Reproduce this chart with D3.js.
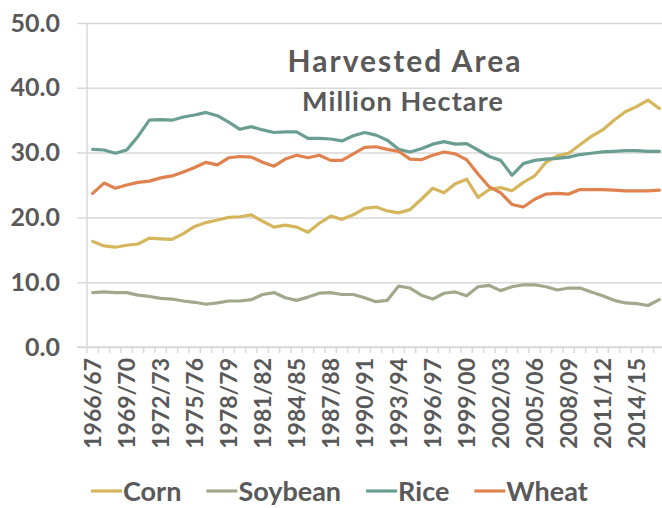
<!DOCTYPE html>
<html>
<head>
<meta charset="utf-8">
<script src="https://cdn.jsdelivr.net/npm/d3@7"></script>
<style>
  html, body { margin: 0; padding: 0; background: #fff; }
  svg { display: block; }
  text { font-family: Lato, "Open Sans", sans-serif; font-weight: bold; fill: #595959; }
</style>
</head>
<body>
<svg id="chart" width="662" height="508"></svg>
<script>
// Marketing years 1966/67 .. 2016/17
const years = d3.range(1966, 2017).map(y => y + "/" + String((y + 1) % 100).padStart(2, "0"));

// Harvested area, million hectares
const corn = [16.3, 15.6, 15.4, 15.7, 15.9, 16.8, 16.7, 16.6, 17.5, 18.6,
              19.2, 19.6, 20.0, 20.1, 20.4, 19.4, 18.5, 18.8, 18.5, 17.7,
              19.1, 20.2, 19.7, 20.4, 21.4, 21.6, 21.0, 20.7, 21.2, 22.8,
              24.5, 23.8, 25.2, 25.9, 23.1, 24.3, 24.6, 24.1, 25.4, 26.4,
              28.5, 29.5, 29.9, 31.2, 32.5, 33.5, 35.0, 36.3, 37.1, 38.1, 36.8];
const soybean = [8.4, 8.5, 8.4, 8.4, 8.0, 7.8, 7.5, 7.4, 7.1, 6.9,
                 6.6, 6.8, 7.1, 7.1, 7.3, 8.1, 8.4, 7.6, 7.2, 7.7,
                 8.3, 8.4, 8.1, 8.1, 7.6, 7.0, 7.2, 9.4, 9.1, 8.0,
                 7.4, 8.3, 8.5, 7.9, 9.3, 9.5, 8.7, 9.3, 9.6, 9.6,
                 9.3, 8.8, 9.1, 9.1, 8.5, 7.9, 7.2, 6.8, 6.7, 6.4, 7.3];
const rice = [30.5, 30.4, 29.9, 30.4, 32.5, 35.0, 35.1, 35.0, 35.5, 35.8,
              36.2, 35.7, 34.7, 33.6, 34.0, 33.5, 33.1, 33.2, 33.2, 32.2,
              32.2, 32.1, 31.8, 32.6, 33.1, 32.7, 31.9, 30.5, 30.1, 30.6,
              31.3, 31.7, 31.3, 31.4, 30.4, 29.4, 28.8, 26.5, 28.3, 28.8,
              29.0, 29.1, 29.3, 29.7, 29.9, 30.1, 30.2, 30.3, 30.3, 30.2, 30.2];
const wheat = [23.7, 25.3, 24.5, 25.0, 25.4, 25.6, 26.1, 26.4, 27.0, 27.7,
               28.5, 28.1, 29.2, 29.4, 29.3, 28.5, 27.9, 29.0, 29.6, 29.2,
               29.6, 28.8, 28.8, 29.8, 30.8, 30.9, 30.5, 30.2, 29.0, 28.9,
               29.6, 30.1, 29.8, 28.9, 26.7, 24.7, 23.8, 22.0, 21.6, 22.8,
               23.6, 23.7, 23.6, 24.3, 24.3, 24.3, 24.2, 24.1, 24.1, 24.1, 24.2];

const yTicks = [0, 10, 20, 30, 40, 50];

const series = [
  { name: "Corn",    values: corn,    color: "#d5b65c" },
  { name: "Soybean", values: soybean, color: "#a1a98d" },
  { name: "Rice",    values: rice,    color: "#6b9e92" },
  { name: "Wheat",   values: wheat,   color: "#e0824f" }
];

const svg = d3.select("#chart");
const plot = { left: 87, right: 665, top: 23, bottom: 347 };

const x = d3.scaleBand().domain(years).range([plot.left, plot.right]);
const y = d3.scaleLinear().domain([0, 50]).range([plot.bottom, plot.top]);
const cx = d => x(d) + x.bandwidth() / 2;

// horizontal gridlines with y labels
const yAxis = d3.axisLeft(y)
  .tickValues(yTicks)
  .tickFormat(d3.format(".1f"))
  .tickSize(-(plot.right - plot.left) - 10)
  .tickPadding(17);
svg.append("g")
  .attr("transform", `translate(${plot.left - 10},0)`)
  .call(yAxis)
  .call(g => g.select(".domain").remove())
  .call(g => g.selectAll(".tick line").attr("stroke", "#d9d9d9").attr("stroke-width", 1.5))
  .call(g => g.selectAll(".tick text").attr("font-size", 25).attr("fill", "#595959")
    .style("font-family", "Lato, sans-serif").style("font-weight", "bold"));

// vertical axis line
svg.append("line")
  .attr("x1", plot.left).attr("x2", plot.left)
  .attr("y1", plot.top).attr("y2", plot.bottom)
  .attr("stroke", "#d9d9d9").attr("stroke-width", 1.5);

// category axis: a tick between each year, label every third year
const xAxis = d3.axisBottom(x).tickSize(0).tickFormat((d, i) => i % 3 === 0 ? d : "");
const gx = svg.append("g")
  .attr("transform", `translate(0,${plot.bottom})`)
  .call(xAxis)
  .call(g => g.select(".domain").remove());
gx.selectAll(".tick text")
  .attr("font-size", 23)
  .attr("fill", "#595959")
  .style("font-family", "Lato, sans-serif").style("font-weight", "bold")
  .attr("text-anchor", "end")
  .attr("transform", "rotate(-90)")
  .attr("x", -11)
  .attr("y", 0)
  .attr("dy", "0.35em");

const boundaries = years.map(d => x(d)).concat([plot.right]);
svg.append("g").selectAll("line")
  .data(boundaries)
  .join("line")
  .attr("x1", d => d).attr("x2", d => d)
  .attr("y1", plot.bottom).attr("y2", plot.bottom + 6)
  .attr("stroke", "#d9d9d9").attr("stroke-width", 1.5);
svg.append("line")
  .attr("x1", plot.left - 10).attr("x2", plot.right)
  .attr("y1", plot.bottom).attr("y2", plot.bottom)
  .attr("stroke", "#d9d9d9").attr("stroke-width", 1.5);

// series lines
const line = d3.line()
  .x((d, i) => cx(years[i]))
  .y(d => y(d));
svg.append("g").selectAll("path")
  .data(series)
  .join("path")
  .attr("d", s => line(s.values))
  .attr("fill", "none")
  .attr("stroke", s => s.color)
  .attr("stroke-width", 3.2)
  .attr("stroke-linejoin", "round")
  .attr("stroke-linecap", "round");

// title
svg.append("text")
  .attr("x", 405).attr("y", 72)
  .attr("text-anchor", "middle")
  .attr("font-size", 30)
  .attr("letter-spacing", 2)
  .text("Harvested Area");
svg.append("text")
  .attr("x", 403).attr("y", 111)
  .attr("text-anchor", "middle")
  .attr("font-size", 27)
  .attr("letter-spacing", 1.1)
  .text("Million Hectare");

// legend
const legend = svg.append("g").attr("transform", "translate(91,491)");
let lx = 0;
series.forEach(s => {
  legend.append("line")
    .attr("x1", lx).attr("x2", lx + 31)
    .attr("y1", 0).attr("y2", 0)
    .attr("stroke", s.color).attr("stroke-width", 3.2);
  const t = legend.append("text")
    .attr("x", lx + 32).attr("y", 0).attr("dy", "0.36em")
    .attr("font-size", 27)
    .text(s.name);
  lx += 32 + t.node().getComputedTextLength() + 25;
});
</script>
</body>
</html>
